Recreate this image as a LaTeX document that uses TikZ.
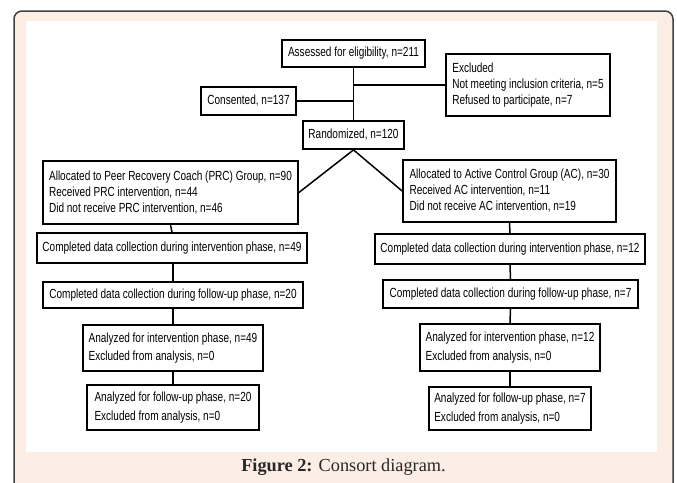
\documentclass[tikz,border=0pt]{standalone}
\usepackage{fontspec}
\setmainfont{Liberation Serif}
\newfontfamily\narrowsans[FakeStretch=0.76]{Liberation Sans}
\usepackage{xcolor}
\definecolor{pagepeach}{RGB}{252,237,229}
\definecolor{framegray}{RGB}{64,64,64}
\definecolor{captiongray}{RGB}{40,40,40}
\usetikzlibrary{positioning,calc}

\begin{document}
\begin{tikzpicture}[
    x=1pt, y=-1pt,
    boxstyle/.style={rectangle, draw=black, line width=1.8pt, fill=white,
                     inner sep=0pt, align=left,
                     font=\narrowsans\fontsize{13.2}{16}\selectfont},
    twoline/.style={boxstyle, font=\narrowsans\fontsize{13.2}{18.5}\selectfont},
    link/.style={black, line width=1.5pt}
  ]
    \useasboundingbox (0,0) rectangle (677,482);

    % Page frame
    \draw[framegray, line width=1.5pt, fill=pagepeach, rounded corners=8pt]
      (14,11) rectangle (673,500);
    \fill[white] (26,21) rectangle (657,452);

    % Enrolment
    \node[boxstyle, minimum width=143pt, minimum height=27pt] (assess) at (353.5,53.5)
      {Assessed for eligibility, n=211};
    \node[boxstyle, minimum width=95pt, minimum height=28pt] (consent) at (248.5,101)
      {Consented, n=137};
    \node[boxstyle, minimum width=164pt, minimum height=62pt] (excluded) at (528,85)
      {Excluded\\Not meeting inclusion criteria, n=5\\Refused to participate, n=7};
    \node[boxstyle, minimum width=101pt, minimum height=28pt] (random) at (353.5,135)
      {Randomized, n=120};

    % Allocation
    \node[boxstyle, minimum width=255pt, minimum height=63pt] (prc) at (170.5,192.5)
      {Allocated to Peer Recovery Coach (PRC) Group, n=90\\Received PRC intervention, n=44\\Did not receive PRC intervention, n=46};
    \node[boxstyle, minimum width=213pt, minimum height=62pt] (ac) at (509.5,191)
      {Allocated to Active Control Group (AC), n=30\\Received AC intervention, n=11\\Did not receive AC intervention, n=19};

    % Follow-up, PRC arm
    \node[boxstyle, minimum width=270pt, minimum height=30pt] (prcint) at (172,248)
      {Completed data collection during intervention phase, n=49};
    \node[boxstyle, minimum width=260pt, minimum height=26pt] (prcfol) at (173,295)
      {Completed data collection during follow-up phase, n=20};

    % Follow-up, AC arm
    \node[boxstyle, minimum width=270pt, minimum height=30pt] (acint) at (510,249)
      {Completed data collection during intervention phase, n=12};
    \node[boxstyle, minimum width=255pt, minimum height=28pt] (acfol) at (510.5,294)
      {Completed data collection during follow-up phase, n=7};

    % Analysis
    \node[twoline, minimum width=180pt, minimum height=46pt] (prcanaint) at (173,348)
      {Analyzed for intervention phase, n=49\\Excluded from analysis, n=0};
    \node[twoline, minimum width=172pt, minimum height=45pt] (prcanafol) at (173,407.5)
      {Analyzed for follow-up phase, n=20\\Excluded from analysis, n=0};
    \node[twoline, minimum width=180pt, minimum height=47pt] (acanaint) at (510,347.5)
      {Analyzed for intervention phase, n=12\\Excluded from analysis, n=0};
    \node[twoline, minimum width=162pt, minimum height=43pt] (acanafol) at (510,408.5)
      {Analyzed for follow-up phase, n=7\\Excluded from analysis, n=0};

    % Connectors
    \draw[link] (assess.south) -- (random.north);
    \draw[link] (assess.south |- excluded.west) -- (excluded.west);
    \draw[link] (consent.east) -- (assess.south |- consent.east);
    \draw[link] (random.south) -- (prc.east);
    \draw[link] (random.south) -- (ac.west);
    \draw[link] (prc.south) -- (prcint.north);
    \draw[link] (prcfol.north |- prcint.south) -- (prcfol.north);
    \draw[link] (prcanaint.north |- prcfol.south) -- (prcanaint.north);
    \draw[link] (prcanaint.south) -- (prcanafol.north);
    \draw[link] (ac.south) -- (acint.north);
    \draw[link] (acint.south) -- (acfol.north);
    \draw[link] (acfol.south) -- (acanaint.north);
    \draw[link] (acanaint.south) -- (acanafol.north);

    % Caption
    \node[anchor=base, font=\fontsize{18.3}{22}\selectfont, text=captiongray] (caption)
      at (343.5,471) {\textbf{Figure 2:} Consort diagram.};
  \end{tikzpicture}
\end{document}
